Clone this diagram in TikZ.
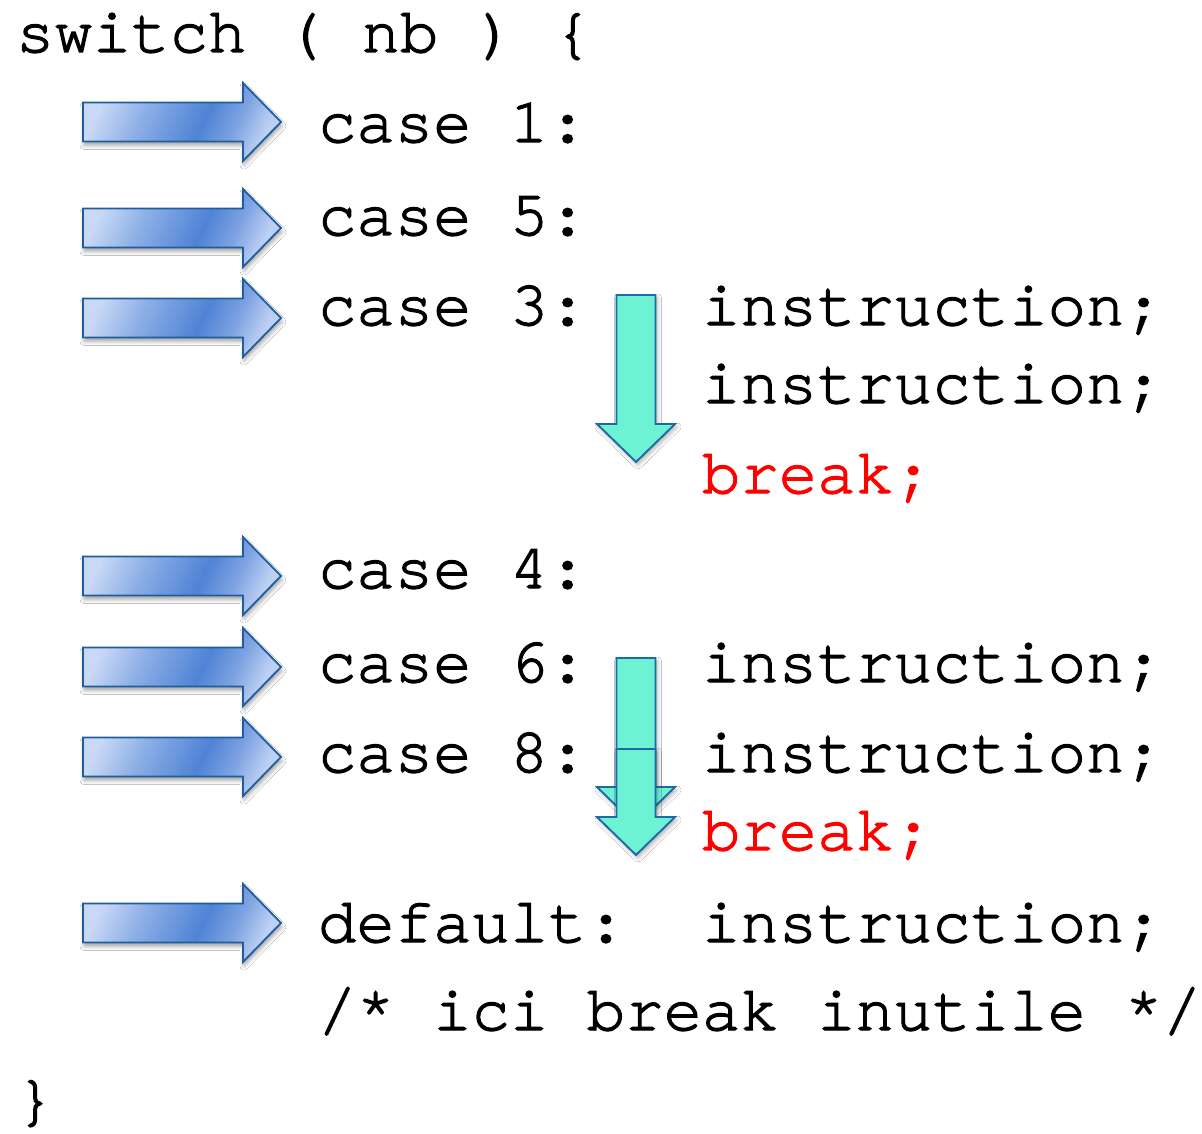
\documentclass[tikz,border=0pt]{standalone}
\usepackage{fontspec}
\usetikzlibrary{shadows.blur}
\newfontfamily\codefont{texgyrecursor-regular.otf}[FakeBold=2]

\definecolor{arrowedge}{HTML}{1E5E9E}
\definecolor{arrowlight}{HTML}{C8D8F5}
\definecolor{arrowmid}{HTML}{8DAFE6}
\definecolor{arrowdark}{HTML}{4F83D5}
\definecolor{arrowsoft}{HTML}{7EA3E2}
\definecolor{arrowtip}{HTML}{BDD0F3}
\definecolor{flowfill}{HTML}{6EF2D4}
\definecolor{flowedge}{HTML}{1C6AA6}
\definecolor{breakred}{HTML}{FF0000}

% left-to-right fill of the case arrows: pale, deep blue past the middle, pale again at the head
\pgfdeclarehorizontalshading{casegrad}{100bp}{%
  color(0bp)=(arrowlight); color(25bp)=(arrowlight);
  color(38bp)=(arrowmid); color(56bp)=(arrowdark);
  color(66bp)=(arrowsoft); color(75bp)=(arrowtip);
  color(100bp)=(arrowtip)}

\tikzset{
  code/.style={anchor=base west, inner sep=0pt, outer sep=0pt,
    font=\codefont\fontsize{64}{64}\selectfont},
  kw/.style={code, text=breakred},
  casearrow/.style={draw=arrowedge, line width=1.8pt, line join=miter,
    shading=casegrad, shading angle=-25,
    blur shadow={shadow xshift=1pt, shadow yshift=-4pt,
      shadow blur radius=4pt, shadow opacity=35}},
  flowarrow/.style={draw=flowedge, line width=1.9pt, line join=miter,
    fill=flowfill,
    blur shadow={shadow xshift=2pt, shadow yshift=-3pt,
      shadow blur radius=4pt, shadow opacity=30}},
  % block arrow pointing right, origin at the left end of the shaft axis
  pics/rarrow/.style={code={
    \path[casearrow] (0,-19.5) -- (160,-19.5) -- (160,-39) -- (198,0)
      -- (160,39) -- (160,19.5) -- (0,19.5) -- cycle;}},
  % block arrow pointing down, origin at the top centre; #1 = shaft length
  pics/darrow/.style={code={
    \path[flowarrow] (-19.5,0) -- (19.5,0) -- (19.5,#1) -- (39,#1)
      -- (0,{#1+38}) -- (-39,#1) -- (-19.5,#1) -- cycle;}},
}

\begin{document}
\begin{tikzpicture}[x=1pt,y=-1pt]
  \fill[white] (0,0) rectangle (1202,1134);
  \useasboundingbox (0,0) rectangle (1202,1134);

  % arrows marking each case label
  \foreach \yy in {122,228,318,576,667,757,923}
    \pic at (83,\yy) {rarrow};

  % fall-through arrows
  \pic at (636,295) {darrow=129};
  \pic at (636,658) {darrow=129};
  \pic at (636,749) {darrow=68};

  % the code
  \node[code] (sw)   at (16,52)   {switch ( nb ) \{};
  \node[code] (c1)   at (318,142) {case 1:};
  \node[code] (c5)   at (318,235) {case 5:};
  \node[code] (c3)   at (318,325) {case 3:};
  \node[code] (i3a)  at (702,325) {instruction;};
  \node[code] (i3b)  at (702,403) {instruction;};
  \node[kw]   (b3)   at (702,493) {break;};
  \node[code] (c4)   at (318,588) {case 4:};
  \node[code] (c6)   at (318,682) {case 6:};
  \node[code] (i6)   at (702,682) {instruction;};
  \node[code] (c8)   at (318,772) {case 8:};
  \node[code] (i8)   at (702,772) {instruction;};
  \node[kw]   (b8)   at (702,850) {break;};
  \node[code] (dflt) at (318,942) {default:};
  \node[code] (idf)  at (702,942) {instruction;};
  \node[code] (note) at (318,1030) {/* ici break inutile */};
  \node[code] (cl)   at (16,1119) {\}};
\end{tikzpicture}
\end{document}
